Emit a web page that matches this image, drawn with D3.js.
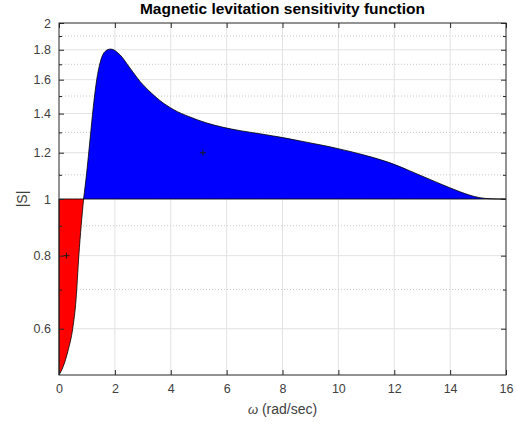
<!DOCTYPE html>
<html>
<head>
<meta charset="utf-8">
<script src="https://cdn.jsdelivr.net/npm/d3@7"></script>
<style>
  html, body { margin: 0; padding: 0; background: #fff; }
  svg { display: block; font-family: "Liberation Sans", Arial, Helvetica, sans-serif; }
</style>
</head>
<body>
<svg id="chart" width="517" height="424"></svg>
<script>
// ---- data ----
const omega = [0, 0.15, 0.33, 0.49, 0.61, 0.71, 0.88, 0.99, 1.11, 1.23, 1.35, 1.47, 1.65, 1.85,
  2.18, 2.54, 2.90, 3.26, 3.61, 4.09, 4.69, 5.29, 5.88, 6.48, 7.19, 7.91, 8.63, 9.34, 9.70,
  10.06, 10.42, 10.89, 11.49, 11.85, 12.20, 12.56, 13.28, 13.64, 13.99, 14.35, 14.71, 15.07,
  15.43, 15.7, 16];
const sens = [0.5, 0.517, 0.552, 0.60, 0.673, 0.80, 1.0, 1.108, 1.263, 1.44, 1.60, 1.709, 1.788, 1.805,
  1.765, 1.675, 1.589, 1.525, 1.474, 1.423, 1.381, 1.349, 1.326, 1.309, 1.293, 1.276, 1.257, 1.238, 1.228,
  1.217, 1.206, 1.190, 1.168, 1.153, 1.136, 1.117, 1.080, 1.062, 1.045, 1.029, 1.015, 1.005,
  1.001, 1.0, 1.0];
const crossOmega = 0.88;
const xTicks = [0, 2, 4, 6, 8, 10, 12, 14, 16];
const yTicks = [0.6, 0.8, 1, 1.2, 1.4, 1.6, 1.8, 2];
const yMinor = [0.7, 0.9, 1.1, 1.3, 1.5, 1.7, 1.9];
const centroidW = [0.27, 5.15];
const centroidS = [0.8, 1.2];
const titleText = "Magnetic levitation sensitivity function";

// ---- layout ----
const svg = d3.select("#chart");
const L = 59, R = 506, T = 23, B = 375;
const x = d3.scaleLinear().domain([0, 16]).range([L, R]);
const y = d3.scaleLog().domain([0.5, 2]).range([B, T]);

const data = omega.map((w, i) => ({ w, s: sens[i] }));
const lower = data.filter(d => d.w <= crossOmega);
const upper = data.filter(d => d.w >= crossOmega);

// grid
const grid = svg.append("g");
grid.selectAll("line.vx").data(xTicks.slice(1, -1)).join("line")
  .attr("x1", d => x(d)).attr("x2", d => x(d)).attr("y1", T).attr("y2", B)
  .attr("stroke", "#e3e3e3").attr("stroke-width", 1);
grid.selectAll("line.hy").data(yTicks.slice(0, -1)).join("line")
  .attr("x1", L).attr("x2", R).attr("y1", d => y(d)).attr("y2", d => y(d))
  .attr("stroke", "#e3e3e3").attr("stroke-width", 1);
grid.selectAll("line.my").data(yMinor).join("line")
  .attr("x1", L).attr("x2", R).attr("y1", d => y(d)).attr("y2", d => y(d))
  .attr("stroke", "#c8c8c8").attr("stroke-width", 1).attr("stroke-dasharray", "1,2");

// fills
const area = d3.area().x(d => x(d.w)).y0(y(1)).y1(d => y(d.s)).curve(d3.curveMonotoneX);
svg.append("path").datum(lower).attr("d", area)
  .attr("fill", "#ff0000").attr("stroke", "#000").attr("stroke-width", 0.8);
svg.append("path").datum(upper).attr("d", area)
  .attr("fill", "#0000ff").attr("stroke", "#000").attr("stroke-width", 0.8);

// centroid markers
const cg = svg.append("g").attr("stroke", "#1a1a1a").attr("stroke-width", 1);
centroidW.forEach((w, i) => {
  const cx = x(w), cy = y(centroidS[i]);
  cg.append("line").attr("x1", cx - 3).attr("x2", cx + 3).attr("y1", cy).attr("y2", cy);
  cg.append("line").attr("x1", cx).attr("x2", cx).attr("y1", cy - 3).attr("y2", cy + 3);
});

// axes box
const axc = "#262626";
svg.append("rect").attr("x", L).attr("y", T).attr("width", R - L).attr("height", B - T)
  .attr("fill", "none").attr("stroke", axc).attr("stroke-width", 1);

// axes via d3
const xAxis = svg.append("g").attr("transform", `translate(0,${B})`)
  .call(d3.axisBottom(x).tickValues(xTicks).tickSize(-5).tickPadding(9).tickFormat(d3.format("d")));
const xTop = svg.append("g").attr("transform", `translate(0,${T})`)
  .call(d3.axisTop(x).tickValues(xTicks).tickSize(-5).tickFormat(""));
const yAxis = svg.append("g").attr("transform", `translate(${L},0)`)
  .call(d3.axisLeft(y).tickValues(yTicks).tickSize(-5).tickPadding(8).tickFormat(d => String(d)));
const yRight = svg.append("g").attr("transform", `translate(${R},0)`)
  .call(d3.axisRight(y).tickValues(yTicks).tickSize(-5).tickFormat(""));
const yMinL = svg.append("g").attr("transform", `translate(${L},0)`)
  .call(d3.axisLeft(y).tickValues(yMinor).tickSize(-3).tickFormat(""));
const yMinR = svg.append("g").attr("transform", `translate(${R},0)`)
  .call(d3.axisRight(y).tickValues(yMinor).tickSize(-3).tickFormat(""));
[xAxis, xTop, yAxis, yRight, yMinL, yMinR].forEach(g => {
  g.select(".domain").remove();
  g.selectAll(".tick line").attr("stroke", axc);
  g.selectAll(".tick text").attr("fill", "#404040").attr("font-size", 12.5)
    .attr("font-family", "'Liberation Sans', Arial, sans-serif");
});

// title
svg.append("text").attr("x", (L + R) / 2).attr("y", 14).attr("text-anchor", "middle")
  .attr("font-size", 15.5).attr("font-weight", "bold").attr("fill", "#000").text(titleText);

// x label
const xl = svg.append("text").attr("x", (L + R) / 2).attr("y", 414).attr("text-anchor", "middle")
  .attr("font-size", 14).attr("fill", "#404040");
xl.append("tspan").attr("font-style", "italic").attr("font-size", 13).text("ω");
xl.append("tspan").text(" (rad/sec)");

// y label
svg.append("text").attr("transform", `translate(27,${y(1)}) rotate(-90)`)
  .attr("text-anchor", "middle").attr("font-size", 14).attr("fill", "#404040").text("|S|");
</script>
</body>
</html>
